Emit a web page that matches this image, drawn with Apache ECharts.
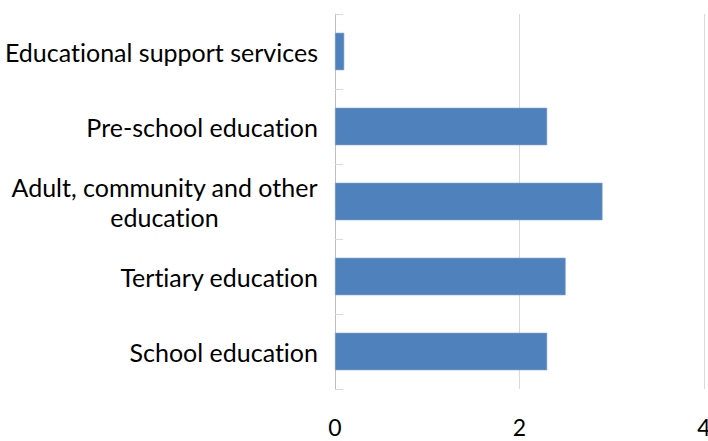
<!DOCTYPE html>
<html>
<head>
<meta charset="utf-8">
<script src="https://cdn.jsdelivr.net/npm/echarts@6/dist/echarts.min.js"></script>
<style>html,body{margin:0;padding:0;background:#fff;}#c{width:708px;height:441px;font-variant-ligatures:none;}#c text,#c tspan{font-variant-ligatures:none !important;font-feature-settings:"liga" 0,"clig" 0 !important;}</style>
</head>
<body>
<div id="c"></div>
<script>
var categories = ['Educational support services', 'Pre-school education', 'Adult, community and other\neducation', 'Tertiary education', 'School education'];
var values = [0.1, 2.3, 2.9, 2.5, 2.3];
var xTicks = [0, 2, 4];

var LABEL_FONT = '25px Lato';
var mctx = document.createElement('canvas').getContext('2d');
mctx.font = LABEL_FONT;

var catRich = {c: {fontFamily: 'Lato', fontSize: 25, lineHeight: 30, color: '#000', align: 'center', width: 306}};
function catLabel(v) {
  if (v.indexOf('\n') < 0) return v;
  var lines = v.split('\n');
  var w = 0;
  lines.forEach(function (l) { w = Math.max(w, mctx.measureText(l).width); });
  catRich.c.width = Math.ceil(w);
  return lines.map(function (l) { return '{c|' + l + '}'; }).join('\n');
}

var chart = echarts.init(document.getElementById('c'), null, {renderer: 'svg'});
function render() {
  categories.forEach(catLabel);
  chart.setOption({
    animation: false,
    backgroundColor: '#fff',
    grid: {left: 335, right: 4, top: 14, bottom: 52, containLabel: false, outerBoundsMode: 'none'},
    xAxis: {
      type: 'value', min: xTicks[0], max: xTicks[xTicks.length - 1], interval: 2,
      axisLine: {show: false}, axisTick: {show: false},
      splitLine: {show: true, lineStyle: {color: '#D9D9D9', width: 1}},
      axisLabel: {color: '#000', fontFamily: 'Lato', fontSize: 23, margin: 26, showMaxLabel: true, hideOverlap: false}
    },
    yAxis: {
      type: 'category', data: categories, inverse: true,
      axisLine: {show: true, lineStyle: {color: '#BFBFBF', width: 1}},
      axisTick: {show: true, inside: true, length: 8, lineStyle: {color: '#D9D9D9'}},
      axisLabel: {color: '#000', fontFamily: 'Lato', fontSize: 25, margin: 17, lineHeight: 30, align: 'right',
        formatter: catLabel, rich: catRich},
      splitLine: {show: false}
    },
    series: [{
      type: 'bar', data: values, barCategoryGap: '50%',
      itemStyle: {color: '#4F81BD', borderColor: '#7FA3D3', borderWidth: 0.6}
    }]
  });
}
if (document.fonts && document.fonts.load) {
  document.fonts.load(LABEL_FONT).then(function () { mctx.font = LABEL_FONT; render(); }, render);
} else { render(); }
</script>
</body>
</html>
